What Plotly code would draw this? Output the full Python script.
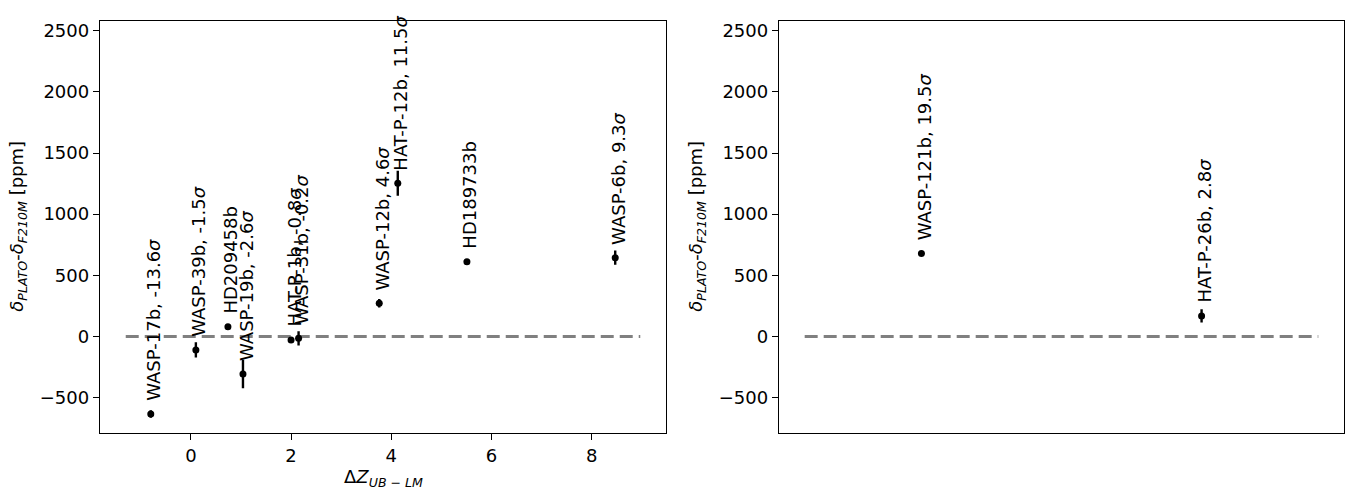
import plotly.graph_objects as go

# ---------------- data ----------------
names_left = ["WASP-17b", "WASP-39b", "HD209458b", "WASP-19b", "HAT-P-1b",
              "WASP-31b", "WASP-12b", "HAT-P-12b", "HD189733b", "WASP-6b"]
dz_left = [-0.80, 0.10, 0.74, 1.04, 2.00, 2.15, 3.76, 4.13, 5.51, 8.47]
ddelta_left = [-634, -110, 80, -307, -29, -15, 271, 1252, 611, 644]
err_left = [30, 62, 10, 116, 20, 58, 35, 102, 12, 58]
sigma_left = [-13.6, -1.5, None, -2.6, -0.8, -0.2, 4.6, 11.5, None, 9.3]

names_right = ["WASP-121b", "HAT-P-26b"]
x_right = [0.0, 1.2]
ddelta_right = [679, 168]
err_right = [15, 54]
sigma_right = [19.5, 2.8]

y_ticks = [-500, 0, 500, 1000, 1500, 2000, 2500]
x_ticks = [0, 2, 4, 6, 8]
y_limits = [-787, 2582]

FONT = "DejaVu Sans"
FS = 18
W, H = 1359, 496


def label(name, s):
    return name if s is None else f"{name}, {s}<i>σ</i>"


def xr(xs):
    lo, hi = min(xs) - 0.5, max(xs) + 0.5
    pad = 0.05 * (hi - lo)
    return [lo - pad, hi + pad]


fig = go.Figure()

panels = [
    ("x", "y", names_left, dz_left, ddelta_left, err_left, sigma_left),
    ("x2", "y2", names_right, x_right, ddelta_right, err_right, sigma_right),
]

for xa, ya, names, xs, ys, es, sg in panels:
    lo, hi = min(xs) - 0.5, max(xs) + 0.5
    fig.add_trace(go.Scatter(x=[lo, hi], y=[0, 0], mode="lines", xaxis=xa, yaxis=ya,
                             line=dict(color="#808080", width=3, dash="13px,6px"),
                             showlegend=False, hoverinfo="skip"))
    fig.add_trace(go.Scatter(x=xs, y=ys, mode="markers", xaxis=xa, yaxis=ya,
                             marker=dict(color="black", size=7),
                             error_y=dict(type="data", array=es, visible=True,
                                          color="black", thickness=2.4, width=0),
                             showlegend=False))
    for n, x, y, s in zip(names, xs, ys, sg):
        fig.add_annotation(x=x, y=y, xref=xa, yref=ya, text=label(n, s),
                           textangle=-90, showarrow=False, xanchor="center",
                           yanchor="bottom", xshift=3, yshift=11,
                           font=dict(family=FONT, size=FS, color="black"))

# layout geometry (pixels -> paper fractions)
L1, R1 = 100 / W, 666 / W
L2, R2 = 779 / W, 1344 / W
B, T = 1 - 432.7 / H, 1 - 20.7 / H

axis_common = dict(showline=True, linecolor="black", linewidth=1.4, mirror=True,
                   ticks="outside", ticklen=6, tickwidth=1.4, tickcolor="black",
                   showgrid=False, zeroline=False,
                   tickfont=dict(family=FONT, size=FS, color="black"))

fig.update_layout(
    width=W, height=H,
    margin=dict(l=0, r=0, t=0, b=0),
    paper_bgcolor="white", plot_bgcolor="white",
    font=dict(family=FONT, size=FS, color="black"),
    xaxis=dict(domain=[L1, R1], range=xr(dz_left), tickvals=x_ticks,
               anchor="y", **axis_common),
    yaxis=dict(domain=[B, T], range=y_limits, tickvals=y_ticks,
               anchor="x", **axis_common),
    xaxis2=dict(domain=[L2, R2], range=xr(x_right), anchor="y2",
                showline=True, linecolor="black", linewidth=1.4, mirror=True,
                showticklabels=False, ticks="", showgrid=False, zeroline=False),
    yaxis2=dict(domain=[B, T], range=y_limits, tickvals=y_ticks,
                anchor="x2", **axis_common),
)

ytitle = "<i>δ</i><sub><i>PLATO</i></sub>-<i>δ</i><sub><i>F210M</i></sub> [ppm]"
fig.add_annotation(text=ytitle, xref="paper", yref="paper", x=18 / W, y=(B + T) / 2,
                   textangle=-90, showarrow=False, xanchor="center", yanchor="middle",
                   font=dict(family=FONT, size=FS, color="black"))
fig.add_annotation(text=ytitle, xref="paper", yref="paper", x=697 / W, y=(B + T) / 2,
                   textangle=-90, showarrow=False, xanchor="center", yanchor="middle",
                   font=dict(family=FONT, size=FS, color="black"))
fig.add_annotation(text="Δ<i>Z</i><sub><i>UB</i> − <i>LM</i></sub>", xref="paper",
                   yref="paper", x=(L1 + R1) / 2, y=1 - 478 / H, showarrow=False,
                   xanchor="center", yanchor="middle",
                   font=dict(family=FONT, size=FS, color="black"))

fig.write_html("out.html",
               config={"displayModeBar": False},
               post_script="document.body.style.margin='0px';"
                           "document.body.style.overflow='hidden';")
